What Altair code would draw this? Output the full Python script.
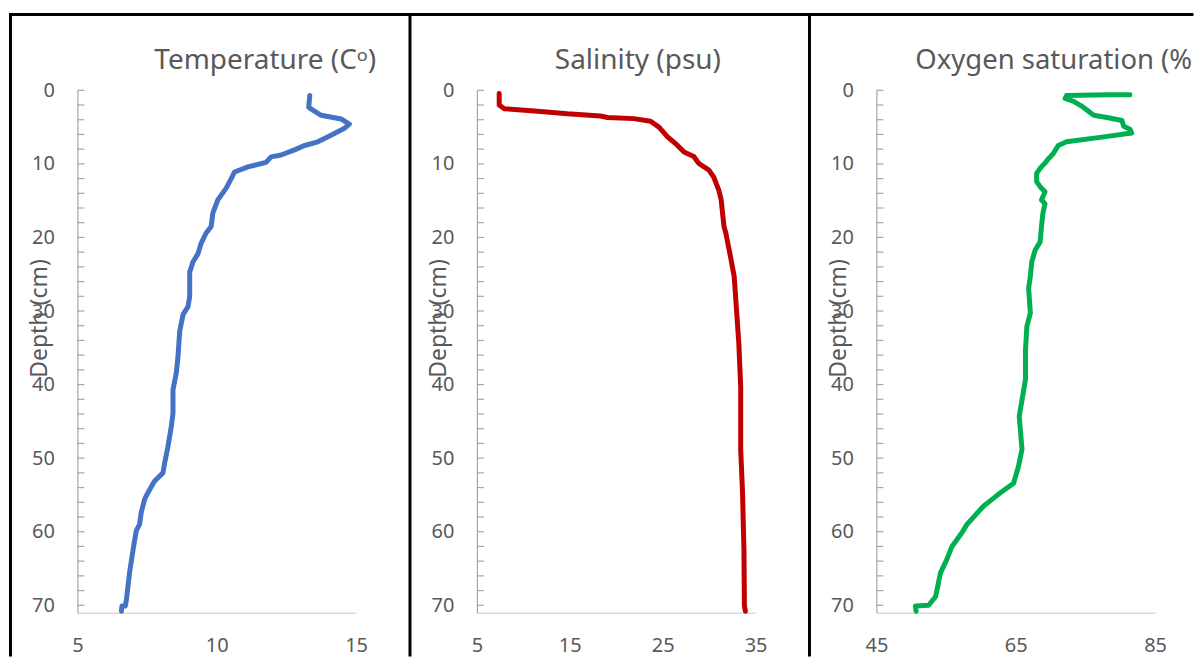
import altair as alt
import pandas as pd

# ---------------- data ----------------
temp_depth = [0.7, 2.3, 2.7, 3.4, 3.9, 4.6, 5.2, 6.1, 7.0, 7.5, 8.1, 8.8, 9.05, 9.8, 10.4,
              11.1, 12.0, 13.3, 14.9, 16.7, 18.5, 19.4, 20.8, 22.2, 23.3, 24.7, 28.0, 29.4,
              30.5, 32.8, 36.2, 38.4, 40.7, 43.9, 45.7, 48.4, 50.7, 52.0, 53.1, 54.7, 55.6,
              57.4, 59.0, 59.9, 62.4, 65.6, 69.2, 70.1, 70.1, 70.8]
temp_vals = [13.34, 13.3, 13.45, 13.75, 14.46, 14.76, 14.57, 14.1, 13.63, 13.15, 12.79, 12.31,
             11.95, 11.77, 11.12, 10.64, 10.52, 10.34, 10.04, 9.86, 9.8, 9.62, 9.44, 9.33, 9.15,
             9.03, 9.03, 8.97, 8.79, 8.67, 8.61, 8.55, 8.43, 8.43, 8.37, 8.25, 8.13, 8.07, 7.77,
             7.53, 7.41, 7.29, 7.23, 7.11, 7.0, 6.87, 6.76, 6.72, 6.6, 6.58]

sal_depth = [0.45, 2.0, 2.5, 2.8, 3.2, 3.5, 3.7, 3.85, 4.2, 5.0, 6.3, 7.5, 8.4, 9.0, 9.95, 10.85,
             11.8, 13.6, 14.9, 18.5, 19.4, 22.6, 25.3, 30.75, 34.4, 40.3, 48.8, 54.7, 62.4, 70.1, 70.8]
sal_vals = [7.4, 7.4, 7.95, 11.2, 14.75, 18.3, 19.05, 21.9, 23.7, 24.6, 25.5, 26.6, 27.3, 28.35,
            28.9, 29.98, 30.5, 31.05, 31.3, 31.6, 31.8, 32.3, 32.7, 33.0, 33.2, 33.4, 33.4, 33.6,
            33.75, 33.8, 33.9]

oxy_depth = [0.6, 0.6, 0.7, 1.1, 1.5, 2.3, 3.4, 3.7, 4.1, 4.9, 5.3, 5.8, 6.4, 7.0, 7.5, 8.6, 9.3,
             9.9, 10.6, 11.3, 12.4, 13.1, 13.8, 14.9, 15.4, 16.7, 18.5, 20.6, 21.7, 23.3, 25.3,
             26.9, 30.3, 32.1, 35.3, 39.3, 42.1, 44.3, 48.8, 51.1, 53.4, 54.7, 55.6, 56.5, 59.0,
             60.1, 62.0, 63.8, 65.6, 68.8, 70.0, 70.1, 70.8]
oxy_vals = [81.4, 78.3, 72.3, 72.1, 73.3, 74.7, 76.2, 78.1, 80.25, 80.5, 81.4, 81.65, 77.1, 72.3,
            71.1, 70.4, 69.7, 69.2, 68.5, 68.0, 68.0, 68.5, 69.2, 68.7, 69.2, 68.9, 68.7, 68.5,
            67.8, 67.3, 67.1, 66.85, 67.1, 66.6, 66.4, 66.4, 65.9, 65.5, 65.9, 65.4, 64.7, 62.8,
            61.6, 60.4, 58.0, 57.3, 55.85, 55.1, 54.2, 53.5, 52.5, 50.6, 50.7]

y_major_ticks = [0, 10, 20, 30, 40, 50, 60, 70]
y_minor_ticks = list(range(0, 71, 2))

titles = ["Temperature (C\u1d52)", "Salinity (psu)", "Oxygen saturation (%)"]
x_domains = [[5, 15], [5, 35], [45, 85]]
x_ticks = [[5, 10, 15], [5, 15, 25, 35], [45, 65, 85]]
colors = ["#4472C4", "#C00000", "#00B050"]

FONT = "Noto Sans"
TXT = "#595959"
W, H = 279, 523


def panel(depths, vals, color, xdom, xt, title, title_x, top_right, title_limit, title_size):
    df = pd.DataFrame({"depth": depths, "val": vals, "idx": list(range(len(vals)))})
    yscale = alt.Scale(domain=[0, 71], reverse=True, nice=False, zero=False)
    xscale = alt.Scale(domain=xdom, nice=False, zero=False)

    line = alt.Chart(df).mark_line(
        color=color, strokeWidth=5, strokeCap="round", strokeJoin="round"
    ).encode(
        x=alt.X("val:Q", scale=xscale,
                axis=alt.Axis(values=xt, ticks=False, grid=False, domainColor="#d9d9d9",
                              domainWidth=1.5, labelPadding=23, labelFontSize=20,
                              labelColor=TXT, labelFont=FONT, labelFlush=False, title=None)),
        y=alt.Y("depth:Q", scale=yscale,
                axis=alt.Axis(values=y_major_ticks, ticks=False, grid=False,
                              domainColor="#a6a6a6", domainWidth=1.2, labelPadding=23,
                              labelFontSize=20, labelColor=TXT, labelFont=FONT,
                              title="Depth (cm)", titleFont=FONT, titleFontSize=23,
                              titleFontWeight="normal", titleColor=TXT, titleX=-38,
                              titleY=228, titleAlign="center", titleBaseline="middle",
                              titleAngle=270)),
        order=alt.Order("idx:Q"),
    )

    ticks = alt.Chart(pd.DataFrame({"depth": y_minor_ticks})).mark_rule(
        color="#a6a6a6", strokeWidth=1.2
    ).encode(
        y=alt.Y("depth:Q", scale=yscale),
        x=alt.value(0), x2=alt.value(7),
    )

    ttl = alt.Chart(pd.DataFrame({"t": [title]})).mark_text(
        font=FONT, fontSize=title_size, color=TXT, align="left", baseline="alphabetic",
        limit=title_limit, ellipsis="\u200b"
    ).encode(text="t:N", x=alt.value(title_x), y=alt.value(-21))

    one = pd.DataFrame({"a": [0]})
    vborder = alt.Chart(one).mark_rule(color="black", strokeWidth=3, strokeCap="butt").encode(
        x=alt.value(-67), y=alt.value(-77), y2=alt.value(567))
    hborder = alt.Chart(one).mark_rule(color="black", strokeWidth=3, strokeCap="butt").encode(
        x=alt.value(-68.5), x2=alt.value(top_right), y=alt.value(-76))

    return alt.layer(line, ticks, vborder, hborder, ttl).properties(width=W, height=H)


p1 = panel(temp_depth, temp_vals, colors[0], x_domains[0], x_ticks[0], titles[0], 77, 333, 400, 28)
p2 = panel(sal_depth, sal_vals, colors[1], x_domains[1], x_ticks[1], titles[1], 78, 333, 400, 28)
p3 = panel(oxy_depth, oxy_vals, colors[2], x_domains[2], x_ticks[2], titles[2], 39, 317.5, 281, 27.5)

chart = alt.hconcat(p1, p2, p3, spacing=121, bounds="flush").configure_view(
    stroke=None
).properties(
    padding={"left": 7.5, "top": 11, "right": 0, "bottom": 0},
    background="white",
)

chart.save("out.html", embed_options={"renderer": "svg", "actions": False})
